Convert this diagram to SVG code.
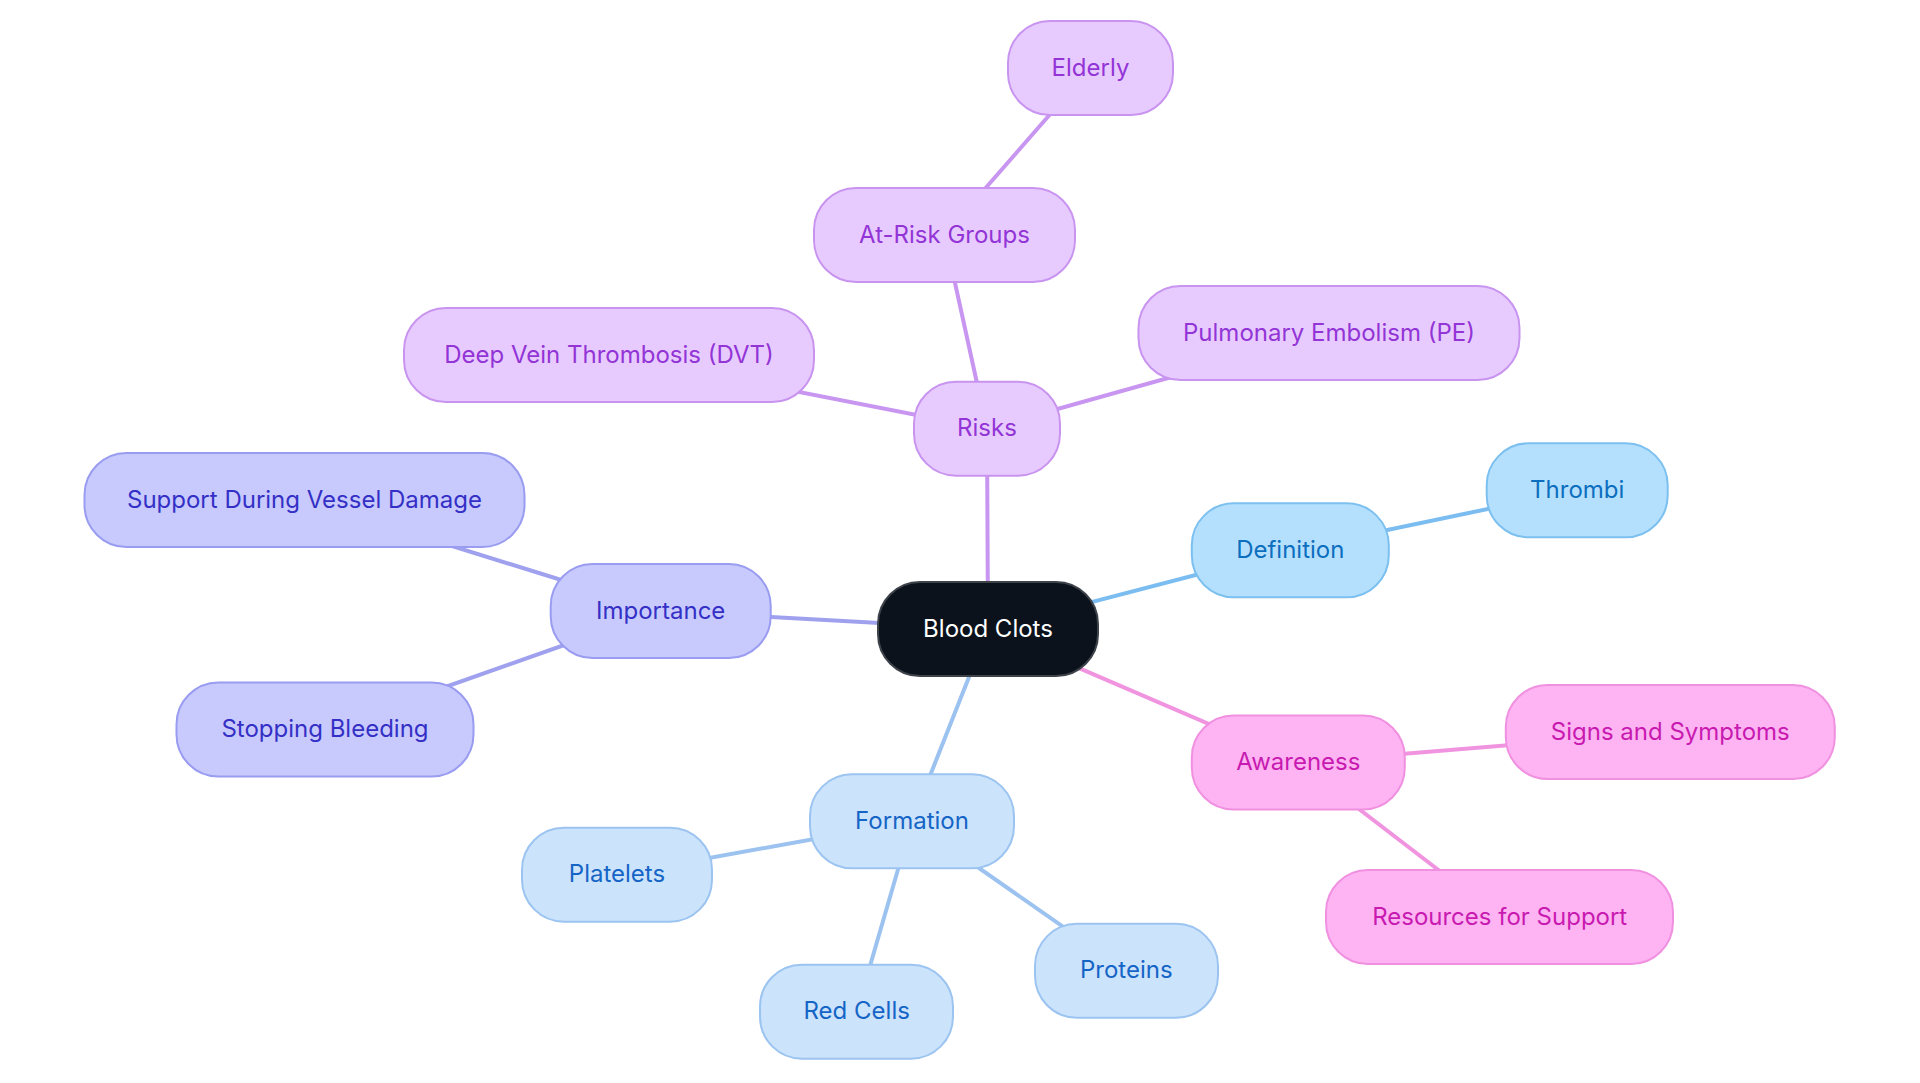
<svg xmlns="http://www.w3.org/2000/svg" width="1920" height="1083" viewBox="0 0 1920 1083">
<style>
  text { font-family: "Inter", "Noto Sans", "Liberation Sans", sans-serif; font-size: 24px; text-anchor: middle; }
  .edge { fill: none; stroke-width: 4; stroke-linecap: round; }
  .e-purple { stroke: #C896F0; }
  .e-indigo { stroke: #9FA0EE; }
  .e-sky { stroke: #7BBDF0; }
  .e-pale { stroke: #9CC2F0; }
  .e-pink { stroke: #F094E0; }
  .node rect { stroke-width: 2; }
  .root rect { fill: #0B121B; stroke: #3E434A; }
  .root text { fill: #FFFFFF; }
  .purple rect { fill: #E8CBFE; stroke: #C894F0; }
  .purple text { fill: #9234D6; }
  .indigo rect { fill: #C8CAFD; stroke: #999CF0; }
  .indigo text { fill: #3430C6; }
  .sky rect { fill: #B5E0FD; stroke: #7CC0F0; }
  .sky text { fill: #0C6EBE; }
  .pale rect { fill: #CCE3FC; stroke: #9CC4F0; }
  .pale text { fill: #1565C6; }
  .pink rect { fill: #FEB4F3; stroke: #F090E0; }
  .pink text { fill: #C81AB0; }
</style>
<rect x="0" y="0" width="1920" height="1083" fill="#FFFFFF"/>
<g id="connectors">
  <line class="edge e-purple" x1="988" y1="629" x2="987" y2="428.7"/>
  <line class="edge e-purple" x1="987" y1="428.7" x2="944.5" y2="235"/>
  <line class="edge e-purple" x1="944.5" y1="235" x2="1090.5" y2="68"/>
  <line class="edge e-purple" x1="987" y1="428.7" x2="609" y2="355"/>
  <line class="edge e-purple" x1="987" y1="428.7" x2="1329" y2="333"/>
  <line class="edge e-indigo" x1="988" y1="629" x2="660.7" y2="611"/>
  <line class="edge e-indigo" x1="660.7" y1="611" x2="304.5" y2="500"/>
  <line class="edge e-indigo" x1="660.7" y1="611" x2="325" y2="729.5"/>
  <line class="edge e-sky" x1="988" y1="629" x2="1290.3" y2="550.3"/>
  <line class="edge e-sky" x1="1290.3" y1="550.3" x2="1577.2" y2="490.3"/>
  <line class="edge e-pale" x1="988" y1="629" x2="912" y2="821.3"/>
  <line class="edge e-pale" x1="912" y1="821.3" x2="617" y2="874.7"/>
  <line class="edge e-pale" x1="912" y1="821.3" x2="856.7" y2="1011.7"/>
  <line class="edge e-pale" x1="912" y1="821.3" x2="1126.3" y2="970.8"/>
  <line class="edge e-pink" x1="988" y1="629" x2="1298.3" y2="762.5"/>
  <line class="edge e-pink" x1="1298.3" y1="762.5" x2="1670.3" y2="732"/>
  <line class="edge e-pink" x1="1298.3" y1="762.5" x2="1499.7" y2="917"/>
</g>
<g id="node-blood-clots" class="node root">
  <rect x="878" y="582" width="220" height="94" rx="42"/>
  <text x="988" y="636.5">Blood Clots</text>
</g>
<g id="node-risks" class="node purple">
  <rect x="914" y="381.7" width="146" height="94" rx="42"/>
  <text x="987" y="436.2">Risks</text>
</g>
<g id="node-at-risk-groups" class="node purple">
  <rect x="814" y="188" width="261" height="94" rx="42"/>
  <text x="944.5" y="242.5">At-Risk Groups</text>
</g>
<g id="node-elderly" class="node purple">
  <rect x="1008" y="21" width="165" height="94" rx="42"/>
  <text x="1090.5" y="75.5">Elderly</text>
</g>
<g id="node-pe" class="node purple">
  <rect x="1138.5" y="286" width="381" height="94" rx="42"/>
  <text x="1329" y="340.5">Pulmonary Embolism (PE)</text>
</g>
<g id="node-dvt" class="node purple">
  <rect x="404" y="308" width="410" height="94" rx="42"/>
  <text x="609" y="362.5">Deep Vein Thrombosis (DVT)</text>
</g>
<g id="node-importance" class="node indigo">
  <rect x="550.7" y="564" width="220" height="94" rx="42"/>
  <text x="660.7" y="618.5">Importance</text>
</g>
<g id="node-support" class="node indigo">
  <rect x="84.5" y="453" width="440" height="94" rx="42"/>
  <text x="304.5" y="507.5">Support During Vessel Damage</text>
</g>
<g id="node-stopping" class="node indigo">
  <rect x="176.5" y="682.5" width="297" height="94" rx="42"/>
  <text x="325" y="737">Stopping Bleeding</text>
</g>
<g id="node-definition" class="node sky">
  <rect x="1191.8" y="503.3" width="197" height="94" rx="42"/>
  <text x="1290.3" y="557.8">Definition</text>
</g>
<g id="node-thrombi" class="node sky">
  <rect x="1486.7" y="443.3" width="181" height="94" rx="42"/>
  <text x="1577.2" y="497.8">Thrombi</text>
</g>
<g id="node-formation" class="node pale">
  <rect x="810" y="774.3" width="204" height="94" rx="42"/>
  <text x="912" y="828.8">Formation</text>
</g>
<g id="node-platelets" class="node pale">
  <rect x="522" y="827.7" width="190" height="94" rx="42"/>
  <text x="617" y="882.2">Platelets</text>
</g>
<g id="node-red-cells" class="node pale">
  <rect x="760" y="964.7" width="193" height="94" rx="42"/>
  <text x="856.7" y="1019.2">Red Cells</text>
</g>
<g id="node-proteins" class="node pale">
  <rect x="1035" y="923.8" width="183" height="94" rx="42"/>
  <text x="1126.3" y="978.3">Proteins</text>
</g>
<g id="node-awareness" class="node pink">
  <rect x="1191.8" y="715.5" width="213" height="94" rx="42"/>
  <text x="1298.3" y="770">Awareness</text>
</g>
<g id="node-signs" class="node pink">
  <rect x="1505.8" y="685" width="329" height="94" rx="42"/>
  <text x="1670.3" y="739.5">Signs and Symptoms</text>
</g>
<g id="node-resources" class="node pink">
  <rect x="1326" y="870" width="347" height="94" rx="42"/>
  <text x="1499.7" y="924.5">Resources for Support</text>
</g>
</svg>
